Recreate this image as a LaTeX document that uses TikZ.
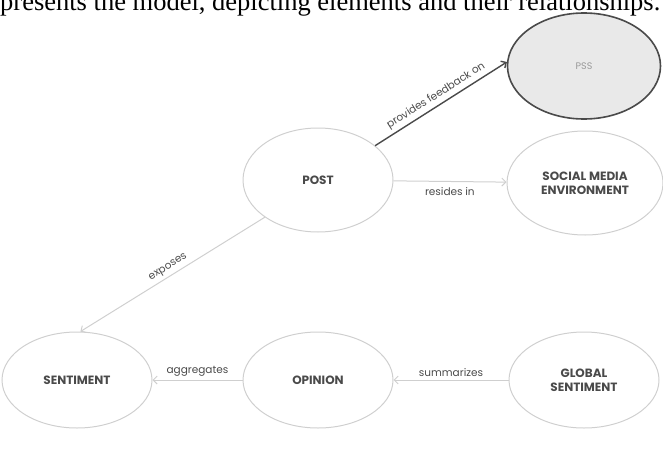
\documentclass[tikz,border=0pt]{standalone}
\usepackage{fontspec}
\setmainfont{Poppins}
\newfontfamily\captionfont{Liberation Serif}
\usetikzlibrary{arrows.meta,positioning,shapes}

\definecolor{rimgrey}{HTML}{CFCFCF}
\definecolor{inkgrey}{HTML}{4A4A4A}
\definecolor{pssfill}{HTML}{E9E9E9}

\begin{document}
\begin{tikzpicture}[
    x=1pt, y=-1pt,
    concept/.style={ellipse, draw=rimgrey, line width=1pt, minimum width=150pt, minimum height=96pt, align=center, inner sep=1pt,
      text=inkgrey, font=\fontsize{12}{14}\selectfont\bfseries},
    link/.style={-{Straight Barb[length=4pt,width=8pt]}, draw=rimgrey, line width=1pt},
    linklabel/.style={midway, sloped, text=inkgrey, font=\fontsize{10.5}{12}\selectfont}
  ]
    \useasboundingbox (0,0) rectangle (663,455);
    \clip (0,0) rectangle (663,455);

    % caption line cut off by the crop
    \node[anchor=base west, inner sep=0pt, font=\captionfont\fontsize{26.5}{28}\selectfont, text=black] (caption) at (0,10)
      {presents the model, depicting elements and their relationships.};

    \node[concept, draw=inkgrey, line width=1.6pt, fill=pssfill, minimum width=153pt, minimum height=106pt,
      font=\fontsize{9.5}{11}\selectfont, text=black!40] (pss) at (584,66) {PSS};
    \node[concept, minimum height=104pt] (post) at (318,180) {POST};
    \node[concept, minimum width=156pt, minimum height=104pt] (sme) at (585,183) {SOCIAL MEDIA\\ENVIRONMENT};
    \node[concept] (sentiment) at (77,380) {SENTIMENT};
    \node[concept] (opinion) at (318,380) {OPINION};
    \node[concept] (global) at (584,380) {GLOBAL\\SENTIMENT};

    \draw[link, draw=inkgrey, line width=1.4pt] (post.31) -- node[linklabel, above] {provides feedback on} (pss.177);
    \draw[link] (post) -- node[linklabel, below=2pt] {resides in} (sme);
    \draw[link] (post.215) -- node[linklabel, above] {exposes} (sentiment.86);
    \draw[link] (opinion) -- node[linklabel, above] {aggregates} (sentiment);
    \draw[link] (global) -- node[linklabel, above] {summarizes} (opinion);
  \end{tikzpicture}
\end{document}
